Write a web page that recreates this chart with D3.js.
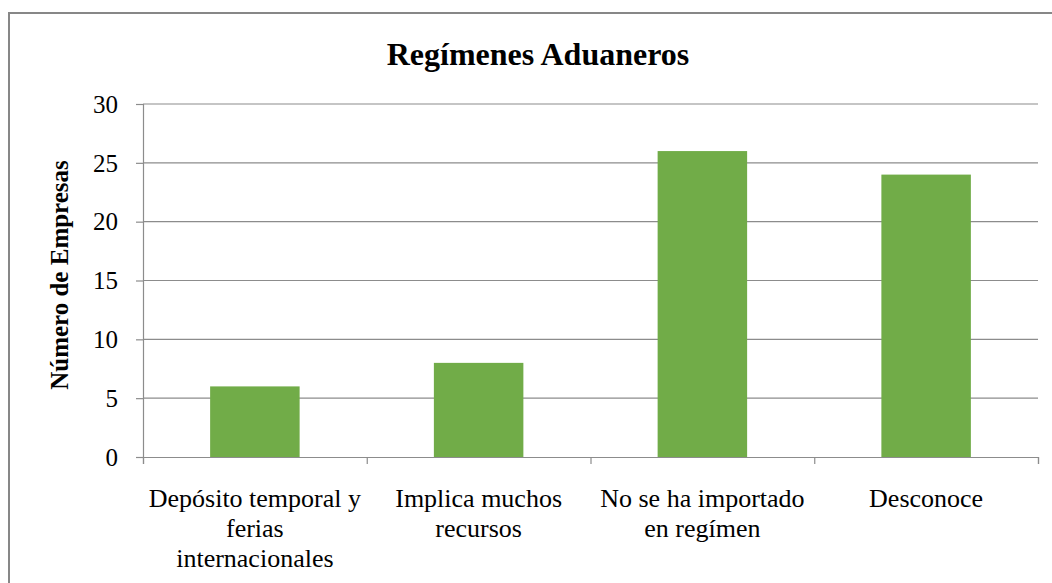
<!DOCTYPE html>
<html>
<head>
<meta charset="utf-8">
<script src="https://cdn.jsdelivr.net/npm/d3@7"></script>
<style>
  body { margin: 0; background: #fff; }
  svg text { font-family: "Liberation Serif", "Times New Roman", serif; fill: #000; }
</style>
</head>
<body>
<script>
var svg_width  = 1052;
var svg_height = 583;

var categories = [
  ["Depósito temporal y", "ferias", "internacionales"],
  ["Implica muchos", "recursos"],
  ["No se ha importado", "en regímen"],
  ["Desconoce"]
];
var values = [6, 8, 26, 24];
var yTicks = [0, 5, 10, 15, 20, 25, 30];

var svg = d3.select('body').append('svg')
            .attr('width', svg_width)
            .attr('height', svg_height);

// outer chart border
svg.append("rect")
   .attr("x", 9).attr("y", 13)
   .attr("width", 1060).attr("height", 600)
   .attr("fill", "none")
   .attr("stroke", "#878787")
   .attr("stroke-width", 2);

var plotLeft = 143, plotRight = 1038, plotTop = 104, plotBottom = 457;

var x = d3.scaleBand()
          .domain(d3.range(categories.length))
          .range([plotLeft, plotRight])
          .padding(0);

var y = d3.scaleLinear()
          .domain([0, 30])
          .range([plotBottom, plotTop]);

// gridlines
svg.append("g")
   .selectAll("line")
   .data(yTicks.filter(d => d > 0))
   .enter().append("line")
   .attr("x1", plotLeft).attr("x2", plotRight)
   .attr("y1", d => y(d)).attr("y2", d => y(d))
   .attr("stroke", "#8c8c8c")
   .attr("stroke-width", 1.2);

// y axis
var yAxis = svg.append("g")
   .attr("transform", "translate(" + plotLeft + ",0)")
   .call(d3.axisLeft(y).tickValues(yTicks).tickSize(7).tickPadding(18));
yAxis.attr("font-family", null).attr("font-size", null);
yAxis.selectAll("text").style("font-size", "25px").attr("dy", "0.33em");

// x axis
var xAxis = svg.append("g")
   .attr("transform", "translate(0," + plotBottom + ")")
   .call(d3.axisBottom(d3.scaleLinear().domain([0, 4]).range([plotLeft, plotRight]))
           .tickValues([0, 1, 2, 3, 4]).tickSize(7).tickFormat(""));

svg.selectAll(".domain, .tick line")
   .attr("stroke", "#8c8c8c")
   .attr("stroke-width", 1.2);

// bars
var barW = x.bandwidth() * 0.4;
svg.append("g")
   .selectAll("rect")
   .data(values)
   .enter().append("rect")
   .attr("x", (d, i) => x(i) + (x.bandwidth() - barW) / 2)
   .attr("y", d => y(d))
   .attr("width", barW)
   .attr("height", d => plotBottom - y(d))
   .attr("fill", "#71ac48");

// category labels
var lab = svg.append("g")
   .selectAll("text")
   .data(categories)
   .enter().append("text")
   .attr("text-anchor", "middle")
   .style("font-size", "26px");
lab.each(function(lines, i) {
  var t = d3.select(this);
  lines.forEach(function(l, j) {
    t.append("tspan")
     .attr("x", x(i) + x.bandwidth() / 2)
     .attr("y", 507 + j * 30)
     .text(l);
  });
});

// title
svg.append("text")
   .attr("x", 538).attr("y", 65)
   .attr("text-anchor", "middle")
   .style("font-size", "32px")
   .style("font-weight", "bold")
   .text("Regímenes Aduaneros");

// y axis title
svg.append("text")
   .attr("transform", "translate(68,275) rotate(-90)")
   .attr("text-anchor", "middle")
   .style("font-size", "25px")
   .style("font-weight", "bold")
   .text("Número de Empresas");
</script>
</body>
</html>
